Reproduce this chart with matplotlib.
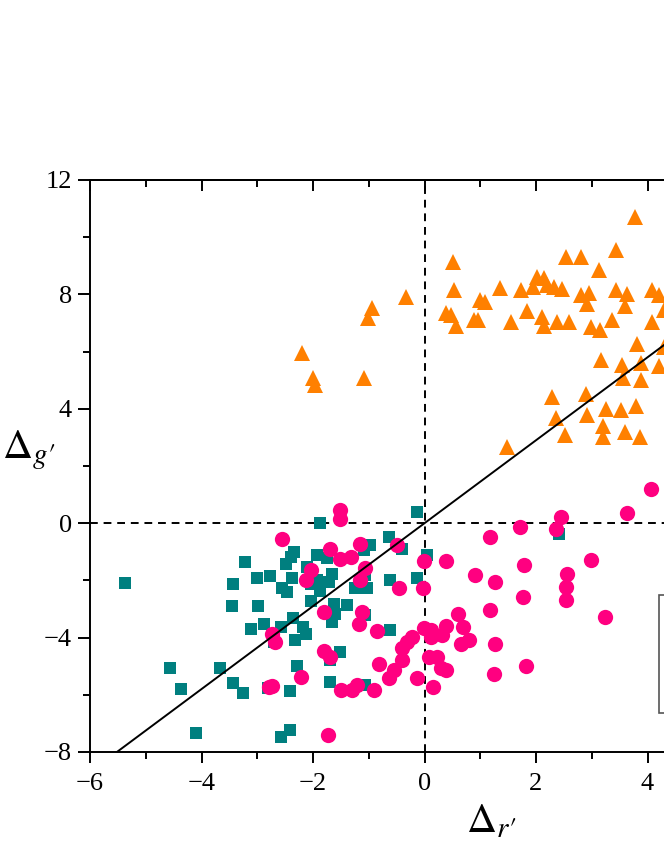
import numpy as np
import matplotlib
matplotlib.use('Agg')
from matplotlib import pyplot as plt

# squares (teal)
sq_x = [-5.38, -4.57, -4.36, -4.09, -3.66, -3.44, -3.45, -3.44, -3.26, -3.22,
        -3.11, -3.01, -2.99, -2.88, -2.78, -2.80, -2.70, -2.58, -2.57, -2.42,
        -2.42, -2.55, -2.46, -2.49, -2.40, -2.34, -2.37, -2.36, -2.33, -2.28,
        -2.18, -2.13, -2.10, -2.04, -2.03, -1.88, -1.92, -1.75, -1.66, -1.72,
        -1.88, -1.92, -1.63, -1.60, -1.66, -1.39, -1.52, -1.70, -1.69, -1.06,
        -1.04, -0.97, -1.06, -1.09, -1.06, -0.14, -0.64, -0.40, 0.04, -0.61,
        -0.13, -1.24, -0.61, 2.41]
sq_y = [-2.09, -5.08, -5.78, -7.35, -5.05, -2.14, -2.89, -5.60, -5.93, -1.35,
        -3.71, -1.90, -2.89, -3.51, -1.85, -5.75, -4.15, -3.62, -7.47, -7.24,
        -5.86, -2.28, -2.40, -1.41, -1.18, -1.00, -1.93, -3.33, -4.09, -4.99,
        -3.62, -3.86, -1.53, -2.11, -2.72, -0.01, -1.12, -1.20, -1.76, -2.05,
        -2.37, -1.99, -2.81, -3.16, -3.45, -2.87, -4.50, -4.79, -5.55, -5.66,
        -2.28, -0.77, -1.82, -0.94, -3.22, 0.40, -0.48, -0.89, -1.10, -1.99,
        -1.90, -2.28, -3.72, -0.38]

# circles (pink)
ci_x = [4.07, 3.64, 2.45, 2.35, 1.71, 1.17, 2.98, 2.56, 2.54, 2.54,
        3.23, 1.78, 1.77, 1.26, 0.91, 0.39, -0.01, -0.03, -0.46, 1.17,
        1.26, 1.24, 1.82, 0.60, 0.69, 0.65, 0.80, 0.38, 0.32, 0.11,
        -0.01, 0.11, -0.22, -0.31, -0.40, -0.40, -0.55, -0.64, -0.81, 0.08,
        0.22, 0.29, 0.38, 0.16, -0.14, -0.91, -1.21, -1.30, -1.49, -1.73,
        -0.85, -1.18, -1.12, -1.81, -1.81, -1.69, -1.52, -1.52, -1.69, -1.51,
        -1.31, -1.15, -0.49, -1.06, -1.16, -2.04, -2.13, -2.22, -2.55, -2.73,
        -2.69, -2.73, -2.79]
ci_y = [1.19, 0.34, 0.20, -0.22, -0.13, -0.50, -1.29, -1.76, -2.23, -2.69,
        -3.28, -1.47, -2.58, -2.05, -1.82, -1.33, -1.33, -2.28, -2.26, -3.04,
        -4.21, -5.26, -5.00, -3.18, -3.62, -4.21, -4.09, -3.60, -3.92, -3.74,
        -3.68, -3.98, -3.98, -4.15, -4.38, -4.79, -5.14, -5.43, -4.91, -4.67,
        -4.67, -5.08, -5.14, -5.72, -5.43, -5.84, -5.66, -5.84, -5.84, -7.41,
        -3.77, -3.51, -3.10, -3.10, -4.48, -4.67, 0.45, 0.16, -0.89, -1.26,
        -1.18, -0.71, -0.77, -1.58, -1.99, -1.62, -1.99, -5.37, -0.54, -3.86,
        -4.15, -5.70, -5.72]

# triangles (orange)
tr_x = [-2.19, -2.00, -1.96, -1.08, -0.95, -1.02, -0.34, 0.51, 0.53, 0.39,
        0.47, 0.56, 0.99, 1.08, 0.89, 0.96, 1.35, 1.55, 1.73, 1.83,
        1.94, 2.02, 2.15, 2.20, 2.33, 2.47, 2.11, 2.15, 2.38, 2.59,
        2.53, 2.80, 3.13, 2.80, 2.95, 2.92, 2.98, 3.14, 3.37, 3.44,
        3.43, 3.64, 3.59, 3.78, 4.08, 4.20, 4.08, 4.30, 3.82, 3.16,
        3.55, 3.89, 4.20, 3.56, 3.89, 2.28, 2.90, 2.36, 2.92, 3.25,
        3.52, 3.80, 3.20, 3.20, 3.59, 3.86, 2.52, 1.48, 4.30]
tr_y = [5.95, 5.06, 4.83, 5.06, 7.51, 7.19, 7.91, 9.14, 8.15, 7.34,
        7.27, 6.89, 7.80, 7.74, 7.12, 7.10, 8.24, 7.04, 8.15, 7.42,
        8.27, 8.61, 8.56, 8.32, 8.27, 8.20, 7.21, 6.89, 7.04, 7.04,
        9.31, 9.31, 8.85, 7.97, 8.05, 7.66, 6.86, 6.77, 7.10, 9.55,
        8.17, 8.00, 7.59, 10.69, 8.17, 7.97, 7.04, 7.45, 6.28, 5.72,
        5.52, 5.60, 5.49, 5.06, 5.00, 4.42, 4.53, 3.69, 3.78, 3.98,
        3.95, 4.09, 3.39, 3.02, 3.19, 3.02, 3.08, 2.67, 6.16]

# solid guide line through the origin
slope = 1.45
line_x = [-6, 6]

plt.rcParams['font.family'] = 'Liberation Serif'
plt.rcParams['mathtext.fontset'] = 'stix'

fig = plt.figure(figsize=(6.64, 8.6), dpi=100)
# the axes run past the right edge of the picture, as in the reference
ax = fig.add_axes([90 / 664, 108 / 860, 669 / 664, 572 / 860])

ax.axhline(0, color='black', ls=(0, (4, 3)), lw=1.4, zorder=1)
ax.axvline(0, color='black', ls=(0, (4, 3)), lw=1.4, zorder=1)

ax.plot(sq_x, sq_y, 's', color='#007f7f', ms=9, mew=0, zorder=2, label='A')
ax.plot(ci_x, ci_y, 'o', color='#ff0080', ms=11, mew=0, zorder=3, label='B')
ax.plot(tr_x, tr_y, '^', color='#ff8000', ms=12, mew=0, zorder=2, label='C')
ax.plot(line_x, [slope * v for v in line_x], color='black', lw=1.4, zorder=4)

ax.set_xlim(-6, 6)
ax.set_ylim(-8, 12)
ax.set_xticks([-6, -4, -2, 0, 2, 4, 6])
ax.set_xticks(np.arange(-5, 6, 2), minor=True)
ax.set_yticks([-8, -4, 0, 4, 8, 12])
ax.set_yticks(np.arange(-6, 12, 4), minor=True)

for s in ax.spines.values():
    s.set_linewidth(1.4)
ax.tick_params(which='both', direction='out', width=1.4, labelsize=19)
ax.tick_params(axis='x', which='major', length=8, pad=7)
ax.tick_params(axis='y', which='major', length=9, pad=4)
ax.tick_params(which='minor', length=5)

top = ax.secondary_xaxis('top')
top.set_xticks([-6, -4, -2, 0, 2, 4, 6])
top.set_xticks(np.arange(-5, 6, 2), minor=True)
top.tick_params(which='both', direction='in', width=1.4, labeltop=False)
top.tick_params(which='major', length=8)
top.tick_params(which='minor', length=5)
top.spines['top'].set_linewidth(1.4)

ax.set_xlabel("$\\Delta_{r\u2032}$", fontsize=30)
ax.xaxis.set_label_coords(0.599, -0.088)
ax.set_ylabel("$\\Delta_{g\u2032}$", fontsize=30, rotation=0, ha='left', va='center')
ax.yaxis.set_label_coords(-0.132, 0.528)

leg = ax.legend(loc='lower left', bbox_to_anchor=(0.8505, 0.068), borderaxespad=0,
                fontsize=19, fancybox=False, edgecolor='#555555', framealpha=1)
leg.get_frame().set_linewidth(1.2)

fig.savefig('out.png', dpi=100)
